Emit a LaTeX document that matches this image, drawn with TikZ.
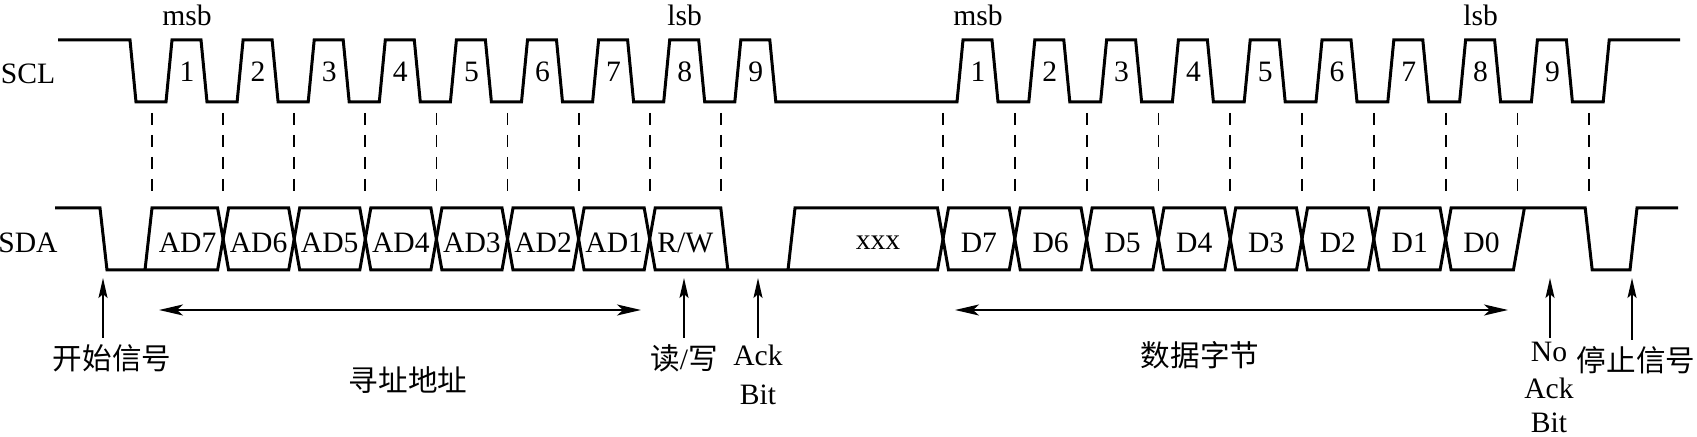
\documentclass[tikz,border=0pt]{standalone}
\usepackage{fontspec}
\setmainfont{Liberation Serif}
\newfontfamily\cjk{Noto Sans CJK SC}
\usetikzlibrary{arrows.meta}
\begin{document}
\begin{tikzpicture}[x=0.5pt,y=-0.5pt,
  sig/.style={line width=1.5pt,line join=miter},
  guide/.style={line width=0.9pt,dash pattern=on 6pt off 5pt},
  lbl/.style={font=\fontsize{14.8}{18}\selectfont,inner sep=0pt},
  clbl/.style={font=\cjk\fontsize{14.8}{18}\selectfont,inner sep=0pt},
  uparrow/.style={line width=1pt,-{Stealth[length=10pt,width=4.5pt,inset=2pt]}},
  span/.style={line width=1pt,{Stealth[length=12pt,width=5.5pt,inset=3pt]}-{Stealth[length=12pt,width=5.5pt,inset=3pt]}}]
\fill[white] (0,0) rectangle (1697,437);
\useasboundingbox (0,0) rectangle (1697,437);
\def\da{152}\def\pa{71.1}\def\db{943}\def\pb{71.8}\def\w{5.5}

% ---------- SCL ----------
\node[lbl] (scl) at (28,74) {SCL};
\draw[sig] (58,40) -- (130,40) -- (136,102)
  \foreach \k in {0,...,8}{ -- ({\da+\pa*\k+14},102) -- ({\da+\pa*\k+20},40) -- ({\da+\pa*\k+49},40) -- ({\da+\pa*\k+55},102) }
  \foreach \k in {0,...,8}{ -- ({\db+\pb*\k+14},102) -- ({\db+\pb*\k+20},40) -- ({\db+\pb*\k+49},40) -- ({\db+\pb*\k+55},102) }
  -- ({\db+\pb*9+14},102) -- ({\db+\pb*9+20},40) -- (1680,40);
\foreach \k in {1,...,9}{
  \node[lbl] (na\k) at ({\da+\pa*(\k-1)+35},72) {\k};
  \node[lbl] (nb\k) at ({\db+\pb*(\k-1)+35},72) {\k};
}
\node[lbl] (msbA) at (187,15) {msb};
\node[lbl] (lsbA) at ({\da+\pa*7+35},15) {lsb};
\node[lbl] (msbB) at ({\db+35},15) {msb};
\node[lbl] (lsbB) at ({\db+\pb*7+35},15) {lsb};

% ---------- guide lines ----------
\foreach \k in {0,...,8} \draw[guide] ({\da+\pa*\k},113) -- ({\da+\pa*\k},200);
\foreach \k in {0,...,9} \draw[guide] ({\db+\pb*\k},113) -- ({\db+\pb*\k},200);

% ---------- SDA ----------
\node[lbl] (sda) at (28,243) {SDA};
\draw[sig] (55,208) -- (100,208) -- (107,270) -- ({\da+\pa-\w},270) -- ({\da+\pa},239) -- ({\da+\pa-\w},208) -- (152,208) -- (145,270);
\foreach \k in {1,...,6}
  \draw[sig] ({\da+\pa*\k},239) -- ({\da+\pa*\k+\w},208) -- ({\da+\pa*(\k+1)-\w},208) -- ({\da+\pa*(\k+1)},239) -- ({\da+\pa*(\k+1)-\w},270) -- ({\da+\pa*\k+\w},270) -- cycle;
\draw[sig] ({\da+\pa*8+7},270) -- ({\da+\pa*8},208) -- ({\da+\pa*7+\w},208) -- ({\da+\pa*7},239) -- ({\da+\pa*7+\w},270) -- ({\db-\w},270) -- (\db,239) -- ({\db-\w},208) -- (795,208) -- (788,270);
\foreach \k in {0,...,6}
  \draw[sig] ({\db+\pb*\k},239) -- ({\db+\pb*\k+\w},208) -- ({\db+\pb*(\k+1)-\w},208) -- ({\db+\pb*(\k+1)},239) -- ({\db+\pb*(\k+1)-\w},270) -- ({\db+\pb*\k+\w},270) -- cycle;
\draw[sig] ({\db+\pb*8+7},208) -- ({\db+\pb*8-4},270) -- ({\db+\pb*7+\w},270) -- ({\db+\pb*7},239) -- ({\db+\pb*7+\w},208) -- ({\db+\pb*9-4},208) -- ({\db+\pb*9+3},270) -- (1630,270) -- (1637,208) -- (1678,208);

\foreach \t [count=\i from 0] in {AD7,AD6,AD5,AD4,AD3,AD2,AD1,R/W}
  \node[lbl] (ca\i) at ({\da+\pa*(\i+0.5)},243) {\t};
\node[lbl] (xxx) at (878,243) {xxx};
\foreach \t [count=\i from 0] in {D7,D6,D5,D4,D3,D2,D1,D0}
  \node[lbl] (cb\i) at ({\db+\pb*(\i+0.5)},243) {\t};

% ---------- annotations ----------
\coordinate (startTip) at (103,278); \coordinate (startTail) at (103,338);
\coordinate (rwTip) at (684,278);    \coordinate (rwTail) at (684,338);
\coordinate (ackTip) at (758,278);   \coordinate (ackTail) at (758,338);
\coordinate (nackTip) at (1550,278); \coordinate (nackTail) at (1550,338);
\coordinate (stopTip) at (1632,278); \coordinate (stopTail) at (1632,340);
\coordinate (addrL) at (159,310);    \coordinate (addrR) at (641,310);
\coordinate (dataL) at (955,310);    \coordinate (dataR) at (1508,310);

\draw[uparrow] (startTail) -- (startTip);
\draw[uparrow] (rwTail) -- (rwTip);
\draw[uparrow] (ackTail) -- (ackTip);
\draw[uparrow] (nackTail) -- (nackTip);
\draw[uparrow] (stopTail) -- (stopTip);
\draw[span] (addrL) -- (addrR);
\draw[span] (dataL) -- (dataR);

\node[clbl] (startlbl) at (112,358) {开始信号};
\node[clbl] (addrlbl) at (408,380) {寻址地址};
\node[lbl] (rwlbl) at (684,358) {{\cjk 读}/{\cjk 写}};
\node[lbl] (ack1) at (758,355) {Ack};
\node[lbl] (bit1) at (758,395) {Bit};
\node[clbl] (datalbl) at (1200,355) {数据字节};
\node[lbl] (no2) at (1549,352) {No};
\node[lbl] (ack2) at (1549,388) {Ack};
\node[lbl] (bit2) at (1549,423) {Bit};
\node[clbl] (stoplbl) at (1636,360) {停止信号};
\end{tikzpicture}
\end{document}
